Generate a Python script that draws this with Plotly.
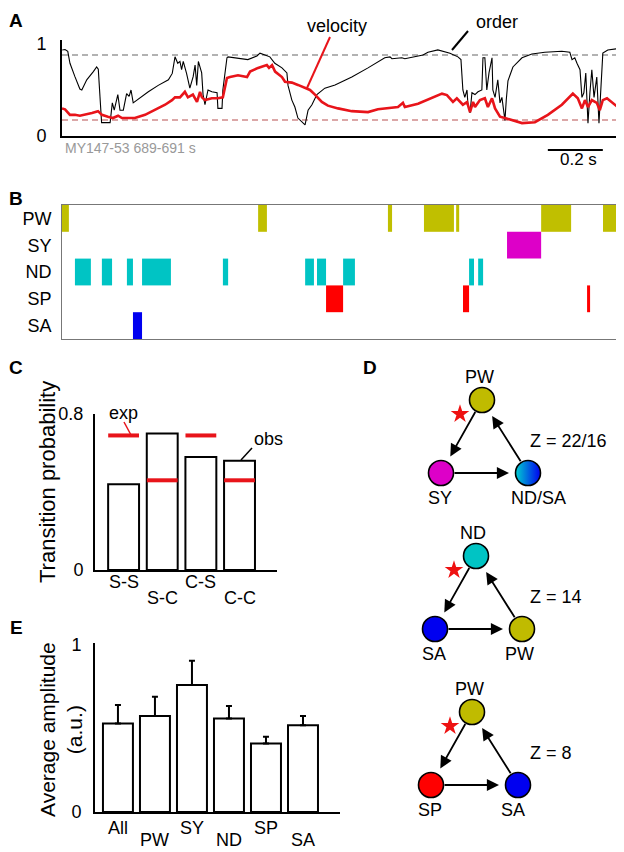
import plotly.graph_objects as go

# The page body has an 8px margin, so the figure is 8px smaller than the window and coordinates are shifted.
OFF = 8
W, H = 624, 852
FIG_W, FIG_H = W - OFF, H - OFF
FONT = "Liberation Sans, Arial, Helvetica, sans-serif"

# ---------------- Panel A: order parameter and velocity (time in ms from 689 s) -------------
order_t = [1, 11, 21, 29, 47, 65, 72, 90, 114, 126, 132, 144, 156, 175, 183, 190, 203, 211, 223, 235,
           244, 251, 259, 272, 314, 350, 387, 401, 411, 421, 429, 435, 441, 453, 465, 477, 484, 490, 496, 508,
           513, 520, 531, 545, 564, 567, 582, 585, 600, 604, 665, 676, 709, 720, 738, 756, 774, 800, 818, 822,
           836, 847, 858, 873, 884, 895, 909, 927, 956, 993, 1054, 1113, 1174, 1193, 1200, 1236, 1247, 1313, 1331, 1367,
           1411, 1440, 1451, 1458, 1465, 1473, 1476, 1484, 1491, 1502, 1513, 1527, 1531, 1538, 1545, 1553, 1564, 1567, 1575, 1585,
           1593, 1600, 1611, 1616, 1622, 1640, 1673, 1709, 1756, 1818, 1847, 1855, 1865, 1873, 1884, 1891, 1898, 1905, 1913, 1920,
           1927, 1935, 1945, 1953, 1960, 1967, 1985, 2036]
order_v = [0.935, 0.94, 0.92, 0.79, 0.645, 0.51, 0.50, 0.61, 0.70, 0.75, 0.725, 0.145, 0.145, 0.145, 0.36, 0.28, 0.45, 0.28, 0.28, 0.46,
           0.43, 0.50, 0.36, 0.39, 0.48, 0.55, 0.61, 0.68, 0.86, 0.79, 0.81, 0.72, 0.81, 0.68, 0.52, 0.645, 0.77, 0.55, 0.81, 0.685,
           0.45, 0.34, 0.50, 0.48, 0.47, 0.30, 0.30, 0.50, 0.85, 0.86, 0.84, 0.83, 0.87, 0.90, 0.88, 0.86, 0.79, 0.74, 0.685, 0.55,
           0.39, 0.315, 0.195, 0.15, 0.12, 0.28, 0.34, 0.45, 0.52, 0.555, 0.64, 0.74, 0.85, 0.86, 0.84, 0.85, 0.84, 0.88, 0.91, 0.935,
           0.90, 0.86, 0.83, 0.50, 0.42, 0.50, 0.36, 0.25, 0.47, 0.45, 0.48, 0.50, 0.85, 0.85, 0.50, 0.685, 0.85, 0.50, 0.42, 0.61,
           0.36, 0.42, 0.17, 0.40, 0.60, 0.75, 0.85, 0.89, 0.91, 0.92, 0.91, 0.83, 0.85, 0.79, 0.72, 0.42, 0.47, 0.685, 0.14, 0.47,
           0.72, 0.42, 0.64, 0.14, 0.61, 0.90, 0.935, 0.955]
vel_t = [0, 11, 29, 47, 65, 84, 109, 131, 145, 167, 185, 204, 218, 236, 265, 302, 338, 375, 400, 411,
         429, 447, 458, 476, 491, 502, 509, 520, 545, 567, 585, 600, 611, 640, 673, 684, 713, 745, 753, 764,
         775, 800, 811, 836, 858, 884, 902, 920, 945, 967, 1004, 1054, 1113, 1149, 1185, 1222, 1240, 1247, 1295, 1345,
         1382, 1400, 1422, 1436, 1458, 1473, 1484, 1495, 1502, 1520, 1538, 1549, 1564, 1575, 1593, 1611, 1636, 1673, 1720, 1767,
         1818, 1858, 1876, 1891, 1902, 1913, 1927, 1945, 1956, 1967, 1982, 2004, 2036]
vel_v = [0.30, 0.29, 0.23, 0.23, 0.22, 0.23, 0.25, 0.27, 0.23, 0.21, 0.195, 0.22, 0.195, 0.195, 0.195, 0.23, 0.28, 0.34, 0.39, 0.42,
         0.42, 0.48, 0.42, 0.45, 0.37, 0.48, 0.42, 0.39, 0.41, 0.41, 0.42, 0.63, 0.64, 0.66, 0.64, 0.70, 0.74, 0.77, 0.74, 0.77,
         0.70, 0.64, 0.59, 0.58, 0.555, 0.52, 0.50, 0.45, 0.37, 0.33, 0.30, 0.27, 0.26, 0.29, 0.30, 0.315, 0.36, 0.315, 0.35, 0.41,
         0.46, 0.445, 0.37, 0.41, 0.34, 0.37, 0.26, 0.37, 0.315, 0.39, 0.41, 0.315, 0.41, 0.30, 0.21, 0.195, 0.17, 0.14, 0.15, 0.23,
         0.34, 0.46, 0.41, 0.30, 0.39, 0.315, 0.39, 0.36, 0.28, 0.39, 0.41, 0.36, 0.28]
order_threshold = 0.88
velocity_threshold = 0.174
scalebar_start_ms = 1767
scalebar_len_ms = 200

# ---------------- Panel B: state raster (ms) -------------
states = ["PW", "SY", "ND", "SP", "SA"]
state_colors = ["#c0bf00", "#dd00c8", "#00c4c4", "#ff0000", "#0000f0"]
pw_on = [0, 713, 1185, 1316, 1433, 1742, 1967]
pw_off = [25, 745, 1200, 1425, 1444, 1851, 2036]
sy_on = [1618]
sy_off = [1742]
nd_on = [47, 145, 236, 291, 585, 884, 927, 1022, 1480, 1513]
nd_off = [105, 182, 258, 396, 604, 916, 960, 1065, 1498, 1531]
sp_on = [960, 1458, 1909]
sp_off = [1022, 1480, 1920]
sa_on = [258]
sa_off = [291]
state_on = [pw_on, sy_on, nd_on, sp_on, sa_on]
state_off = [pw_off, sy_off, nd_off, sp_off, sa_off]

# ---------------- Panel C: transition probabilities -------------
trans_labels = ["S-S", "S-C", "C-S", "C-C"]
trans_obs = [0.44, 0.70, 0.58, 0.56]
trans_exp = [0.69, 0.46, 0.69, 0.46]

# ---------------- Panel E: average amplitude -------------
amp_labels = ["All", "PW", "SY", "ND", "SP", "SA"]
amp_mean = [0.53, 0.575, 0.76, 0.56, 0.41, 0.52]
amp_err = [0.11, 0.115, 0.145, 0.075, 0.04, 0.055]

# ---------------- Panel D: motifs -------------
motif_nodes = [["PW", "SY", "ND/SA"], ["ND", "SA", "PW"], ["PW", "SP", "SA"]]
motif_z = ["Z = 22/16", "Z = 14", "Z = 8"]
node_colors = {"PW": "#c0bb00", "SY": "#dd00c8", "ND": "#00c4c4", "SP": "#ff0000", "SA": "#0000f0"}


def px(x):
    return (x - OFF) / FIG_W


def py(y):
    return 1 - (y - OFF) / FIG_H


def txt(x, y, text, size=18, color="black", xanchor="center", angle=0):
    return dict(x=px(x), y=py(y), xref="paper", yref="paper", text=text, showarrow=False,
                xanchor=xanchor, yanchor="middle", textangle=angle, font=dict(size=size, color=color))


fig = go.Figure()

# Panel A traces
fig.add_trace(go.Scatter(x=order_t, y=order_v, mode="lines", line=dict(color="black", width=1.1),
                         xaxis="x", yaxis="y", hoverinfo="skip"))
fig.add_trace(go.Scatter(x=vel_t, y=vel_v, mode="lines", line=dict(color="#e8141a", width=2.6),
                         xaxis="x", yaxis="y", hoverinfo="skip"))

# Panel B bars
for s, col, on, off in zip(states, state_colors, state_on, state_off):
    fig.add_trace(go.Bar(y=[s] * len(on), x=[b - a for a, b in zip(on, off)], base=on, orientation="h",
                         width=1, marker=dict(color=col, line=dict(width=0)), xaxis="x2", yaxis="y2",
                         hoverinfo="skip"))

# Panel C bars
cidx = list(range(len(trans_labels)))
fig.add_trace(go.Bar(x=cidx, y=trans_obs, width=0.8, marker=dict(color="white", line=dict(color="black", width=2)),
                     xaxis="x3", yaxis="y3", hoverinfo="skip"))
fig.add_trace(go.Scatter(x=cidx, y=trans_exp, mode="markers",
                         marker=dict(symbol="line-ew", size=22, line=dict(color="#e8141a", width=4)),
                         xaxis="x3", yaxis="y3", hoverinfo="skip"))

# Panel E bars
eidx = list(range(len(amp_labels)))
fig.add_trace(go.Bar(x=eidx, y=amp_mean, width=0.81, marker=dict(color="white", line=dict(color="black", width=2)),
                     error_y=dict(type="data", array=amp_err, arrayminus=[0] * len(amp_err), symmetric=False,
                                  color="black", thickness=2, width=3),
                     xaxis="x4", yaxis="y4", hoverinfo="skip"))

# Panel D: motifs (layout in window-pixel coordinates of an invisible axis)
motif_top = [(482, 400), (476, 556), (472, 712)]
left_off = (-41, 73)
right_off = (46, 73)
annotations = []
shapes = []
for (tx, ty), names, ztxt in zip(motif_top, motif_nodes, motif_z):
    pts = [(tx, ty), (tx + left_off[0], ty + left_off[1]), (tx + right_off[0], ty + right_off[1])]
    # arrows top->left, left->right, right->top
    for i in range(3):
        (x0, y0), (x1, y1) = pts[i], pts[(i + 1) % 3]
        dx, dy = x1 - x0, y1 - y0
        L = (dx * dx + dy * dy) ** 0.5
        ux, uy = dx / L, dy / L
        annotations.append(dict(x=x1 - ux * 19, y=y1 - uy * 19, ax=x0 + ux * 12, ay=y0 + uy * 12,
                                xref="x5", yref="y5", axref="x5", ayref="y5", text="", showarrow=True,
                                arrowhead=2, arrowsize=1.35, arrowwidth=1.8, arrowcolor="black"))
    for k, ((nx, ny), nm) in enumerate(zip(pts, names)):
        if nm == "ND/SA":
            mk = dict(size=25, color="#00d0d0", gradient=dict(type="horizontal", color="#0000f0"),
                      line=dict(color="black", width=1.6))
        else:
            mk = dict(size=25, color=node_colors[nm], line=dict(color="black", width=1.6))
        fig.add_trace(go.Scatter(x=[nx], y=[ny], mode="markers", marker=mk, xaxis="x5", yaxis="y5",
                                 hoverinfo="skip"))
        if k == 0:
            lx, ly, xa = nx - 3, ny - 23, "center"
        elif k == 1:
            lx, ly, xa = nx - 1, ny + 25, "center"
        else:
            lx, ly, xa = nx - 19, ny + 25, "left"
        annotations.append(dict(x=lx, y=ly, xref="x5", yref="y5", text=nm, showarrow=False,
                                xanchor=xa, yanchor="middle", font=dict(size=18)))
    fig.add_trace(go.Scatter(x=[tx - 22], y=[ty + 14], mode="markers",
                             marker=dict(symbol="star", size=14, color="#ee1111", line=dict(width=0)),
                             xaxis="x5", yaxis="y5", hoverinfo="skip"))
    annotations.append(dict(x=528, y=ty + 41, xref="x5", yref="y5", text=ztxt, showarrow=False,
                            xanchor="left", yanchor="middle", font=dict(size=18)))

# Panel letters
for letter, (lx, ly) in zip("ABCDE", [(16, 20), (16, 198), (16, 368), (370, 368), (16, 627)]):
    annotations.append(txt(lx, ly, "<b>%s</b>" % letter, size=19))

# Panel A texts
annotations += [
    txt(337, 26, "velocity"),
    txt(497, 22, "order"),
    txt(63, 148, "MY147-53 689-691 s", size=14, color="#999999", xanchor="left"),
    txt(578, 160, "0.2 s", size=17),
]
shapes += [
    dict(type="line", xref="paper", yref="paper", x0=px(330), y0=py(37), x1=px(307), y1=py(88),
         line=dict(color="#e8141a", width=2)),
    dict(type="line", xref="paper", yref="paper", x0=px(468), y0=py(31), x1=px(452), y1=py(50),
         line=dict(color="black", width=2)),
    dict(type="line", xref="x domain", yref="y", x0=0, x1=1, y0=order_threshold, y1=order_threshold,
         line=dict(color="#999999", width=1.3, dash="6px,4px"), layer="below"),
    dict(type="line", xref="x domain", yref="y", x0=0, x1=1, y0=velocity_threshold, y1=velocity_threshold,
         line=dict(color="#d08a8a", width=1.3, dash="6px,4px"), layer="below"),
    dict(type="line", xref="x", yref="paper", x0=scalebar_start_ms, x1=scalebar_start_ms + scalebar_len_ms,
         y0=py(150), y1=py(150), line=dict(color="black", width=2)),
]

# Panel C texts
for i, lab in enumerate(trans_labels):
    annotations.append(dict(x=i, xref="x3", y=py(582 if i % 2 == 0 else 598), yref="paper", text=lab,
                            showarrow=False, xanchor="center", yanchor="middle", font=dict(size=18)))
annotations += [
    txt(47, 482, "Transition probability", size=22, angle=-90),
    txt(123, 413, "exp"),
    txt(268, 439, "obs"),
]
shapes += [
    dict(type="line", xref="paper", yref="paper", x0=px(124), y0=py(422), x1=px(131), y1=py(435),
         line=dict(color="#e8141a", width=1.5)),
    dict(type="line", xref="paper", yref="paper", x0=px(252), y0=py(448), x1=px(241), y1=py(460),
         line=dict(color="black", width=1.5)),
]

# Panel E texts
for i, lab in enumerate(amp_labels):
    annotations.append(dict(x=i, xref="x4", y=py(828 if i % 2 == 0 else 840), yref="paper", text=lab,
                            showarrow=False, xanchor="center", yanchor="middle", font=dict(size=18)))
annotations.append(txt(61, 730, "Average amplitude<br>(a.u.)", size=21, angle=-90))

axis_common = dict(showgrid=False, zeroline=False, ticks="", fixedrange=True, automargin=False)

fig.update_layout(
    template="none",
    width=FIG_W, height=FIG_H, margin=dict(l=0, r=0, t=0, b=0, pad=0, autoexpand=False),
    paper_bgcolor="white", plot_bgcolor="rgba(0,0,0,0)",
    showlegend=False, barmode="overlay",
    font=dict(family=FONT, size=18, color="black"),
    xaxis=dict(domain=[px(62), px(624)], range=[0, 2044], showline=True, linecolor="black", linewidth=2,
               showticklabels=False, anchor="y", **axis_common),
    yaxis=dict(domain=[py(136), py(40)], range=[0, 1.043], showline=True, linecolor="black", linewidth=2,
               tickvals=[0, 1], ticktext=["0", "1"], ticklabelstandoff=10, tickfont=dict(size=18),
               anchor="x", **axis_common),
    xaxis2=dict(domain=[px(62), px(622)], range=[0, 2036], showline=True, mirror=True, linecolor="#777777",
                linewidth=1, showticklabels=False, anchor="y2", **axis_common),
    yaxis2=dict(domain=[py(339), py(205)], type="category", categoryorder="array", categoryarray=states,
                range=[4.5, -0.5], showline=True, mirror=True, linecolor="#777777", linewidth=1,
                ticklabelstandoff=6, tickfont=dict(size=18), anchor="x2", **axis_common),
    xaxis3=dict(domain=[px(95), px(277)], range=[-0.74, 3.97], showline=True, linecolor="black", linewidth=2,
                showticklabels=False, anchor="y3", **axis_common),
    yaxis3=dict(domain=[py(570), py(414)], range=[0, 0.8], showline=True, linecolor="black", linewidth=2,
                tickvals=[0, 0.8], ticktext=["0", "0.8"], ticklabelstandoff=6, tickfont=dict(size=18),
                anchor="x3", **axis_common),
    xaxis4=dict(domain=[px(95), px(340)], range=[-0.62, 6.0], showline=True, linecolor="black", linewidth=2,
                showticklabels=False, anchor="y4", **axis_common),
    yaxis4=dict(domain=[py(812), py(643)], range=[0, 1.012], showline=True, linecolor="black", linewidth=2,
                tickvals=[0, 1], ticktext=["0", "1"], ticklabelstandoff=8, tickfont=dict(size=18),
                anchor="x4", **axis_common),
    xaxis5=dict(domain=[px(360), 1], range=[360, 624], visible=False, anchor="y5", **axis_common),
    yaxis5=dict(domain=[0, py(340)], range=[852, 340], visible=False, anchor="x5", **axis_common),
    annotations=annotations,
    shapes=shapes,
)

fig.write_html("out.html")
